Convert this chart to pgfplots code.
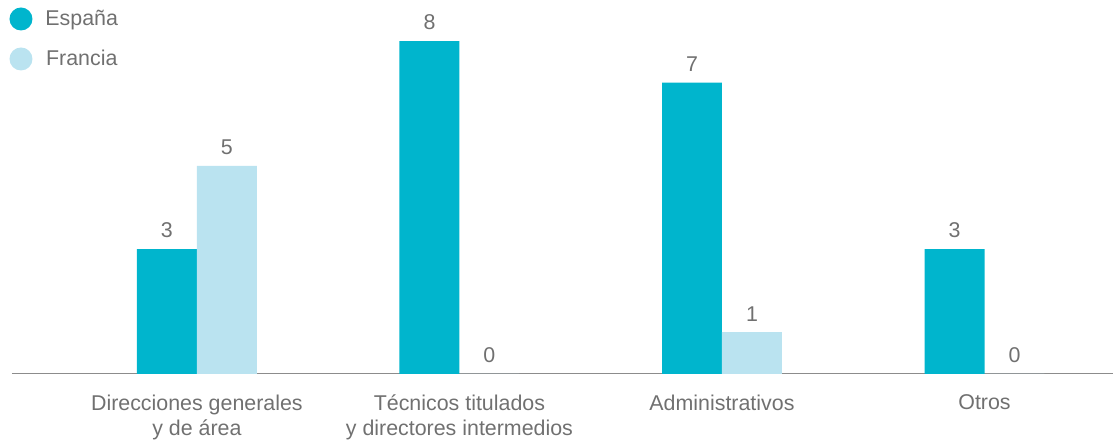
\documentclass[border=0pt]{standalone}
\usepackage{pgfplots}
\pgfplotsset{compat=1.18}
\usepackage{fontspec}
\setmainfont{Liberation Sans}
\definecolor{esp}{RGB}{0,181,205}
\definecolor{fra}{RGB}{186,227,240}
\definecolor{txt}{RGB}{112,112,112}
\definecolor{axl}{RGB}{140,140,140}
\begin{document}
\begin{tikzpicture}
\begin{axis}[
  scale only axis, width=1102pt, height=374pt,
  xmin=-0.7043, xmax=3.491, ymin=0, ymax=8.99,
  axis y line=none, axis x line*=bottom,
  x axis line style={draw=axl, line width=1.2pt, -},
  xtick={0,1,2,3}, major tick length=0pt,
  xticklabels={{Direcciones generales\\y de área},{Técnicos titulados\\y directores intermedios},{Administrativos},{Otros}},
  xticklabel style={align=center, font=\fontsize{21.4}{25}\selectfont, text=txt, inner sep=0pt, yshift=-21pt},
  ybar=0pt, bar width=60pt,
  /pgf/number format/assume math mode=true,
  nodes near coords,
  nodes near coords style={font=\fontsize{21.4}{25}\selectfont, text=txt, inner sep=0pt, yshift=11pt},
  legend style={at={(0,1)}, anchor=north west, xshift=-2.5pt, yshift=-7.5pt, draw=none, fill=none,
    inner sep=0pt, outer sep=0pt, row sep=17pt, column sep=13pt,
    font=\fontsize{21.4}{25}\selectfont, text=txt,
    nodes={inner sep=0pt}},
  legend image code/.code={\fill[#1] (11.5pt,0pt) circle (11.5pt);},
  clip=false,
]
\addplot[fill=esp, draw=none] coordinates {(0,3) (1,8) (2,7) (3,3)};
\addplot[fill=fra, draw=none] coordinates {(0,5) (1,0) (2,1) (3,0)};
\legend{España, Francia}
\path (rel axis cs:0,0) ++(-12pt,-66pt) (rel axis cs:1,1);
\end{axis}
\end{tikzpicture}
\end{document}
